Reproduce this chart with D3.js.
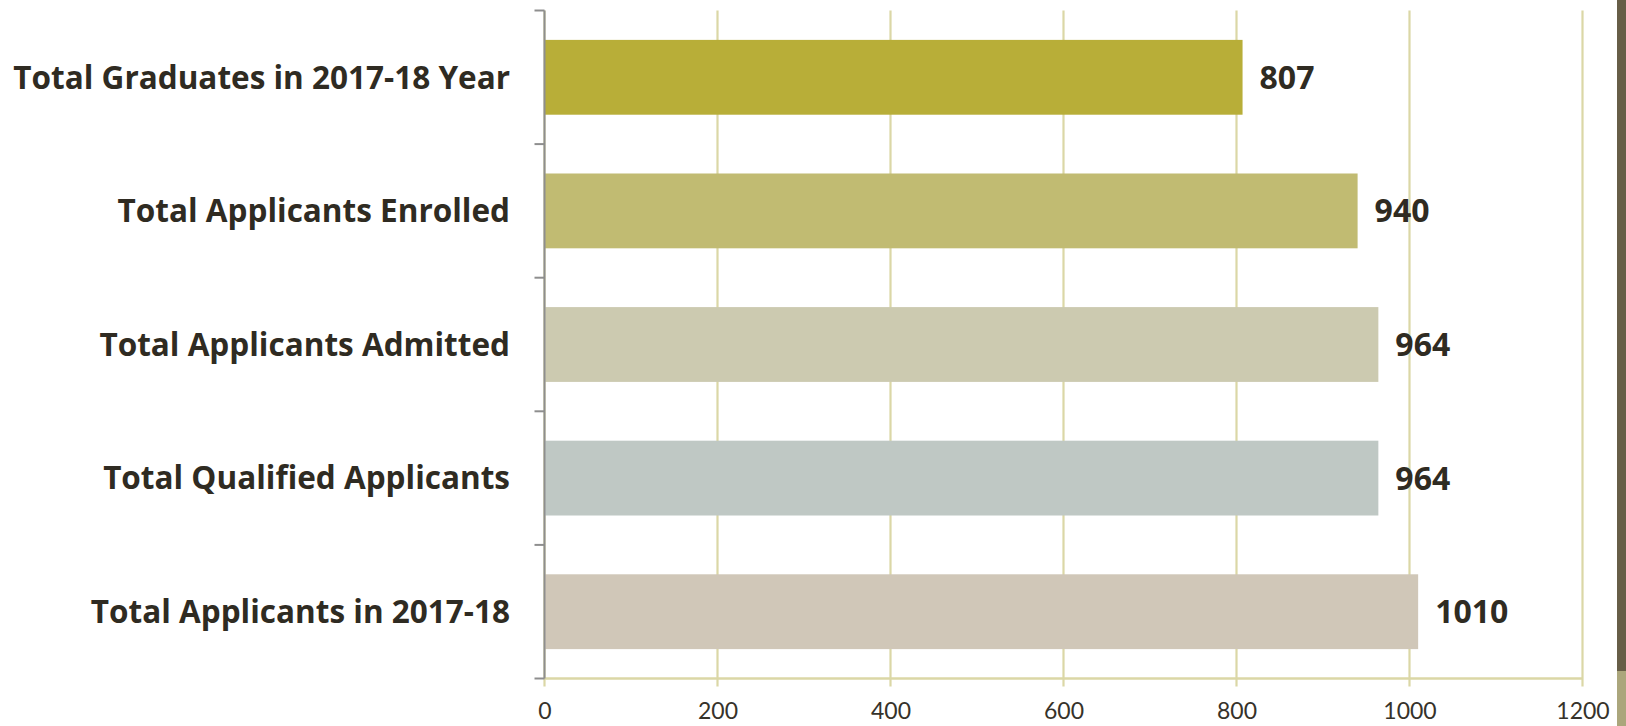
<!DOCTYPE html>
<html>
<head>
<meta charset="utf-8">
<script src="https://cdn.jsdelivr.net/npm/d3@7"></script>
<style>
  html, body { margin: 0; padding: 0; background: #ffffff; }
  svg { display: block; }
</style>
</head>
<body>
<svg id="chart" width="1626" height="726"></svg>
<script>
// Categories, top to bottom
const categories = [
  "Total Graduates in 2017-18 Year",
  "Total Applicants Enrolled",
  "Total Applicants Admitted",
  "Total Qualified Applicants",
  "Total Applicants in 2017-18"
];
const values = [807, 940, 964, 964, 1010];
const barColors = ["#b8ae38", "#c1bb72", "#cccab0", "#bfc8c4", "#d0c7b8"];
const xTicks = [0, 200, 400, 600, 800, 1000, 1200];

const svg = d3.select("#chart");
const W = 1626, H = 726;
const m = { left: 544.5, right: 1582.5, top: 10.5, bottom: 678.5 };

const x = d3.scaleLinear().domain([0, 1200]).range([m.left, m.right]);
const y = d3.scaleBand().domain(categories).range([m.top, m.bottom])
  .paddingInner(0.44).paddingOuter(0.22);

// Slide edge strip on the right
svg.append("rect").attr("x", 1617).attr("y", 0).attr("width", 9).attr("height", 671).attr("fill", "#675e47");
svg.append("rect").attr("x", 1617).attr("y", 671).attr("width", 9).attr("height", H - 671).attr("fill", "#aba67c");

// Vertical gridlines
svg.append("g").selectAll("line").data(xTicks).join("line")
  .attr("x1", d => x(d)).attr("x2", d => x(d))
  .attr("y1", m.top).attr("y2", m.bottom + 8)
  .attr("stroke", "#dbd7a6").attr("stroke-width", 2.2);

// Horizontal value axis line
svg.append("line")
  .attr("x1", x(0)).attr("x2", x(1200))
  .attr("y1", m.bottom).attr("y2", m.bottom)
  .attr("stroke", "#dbd7a6").attr("stroke-width", 2.5);

// Value axis tick labels
const xAxis = d3.axisBottom(x).tickValues(xTicks).tickSize(0).tickPadding(0).tickFormat(d3.format("d"));
const gx = svg.append("g").attr("transform", `translate(0,${m.bottom + 24})`).call(xAxis);
gx.select(".domain").remove();
gx.selectAll("text")
  .attr("dy", "0.71em")
  .attr("font-family", "Lato, 'Open Sans', sans-serif")
  .attr("font-size", 23)
  .attr("fill", "#36322a");

// Bars
svg.append("g").selectAll("rect").data(categories).join("rect")
  .attr("x", x(0))
  .attr("y", d => y(d))
  .attr("width", (d, i) => x(values[i]) - x(0))
  .attr("height", y.bandwidth())
  .attr("fill", (d, i) => barColors[i]);

// Value labels
svg.append("g").selectAll("text").data(categories).join("text")
  .attr("x", (d, i) => x(values[i]) + 17)
  .attr("y", d => y(d) + y.bandwidth() / 2)
  .attr("dy", "0.36em")
  .attr("font-family", "'Open Sans', Lato, sans-serif")
  .attr("font-weight", "bold")
  .attr("font-size", 32)
  .attr("fill", "#2f2b22")
  .text((d, i) => values[i]);

// Category axis (left), ticks at band boundaries
const axisX = x(0);
const gy = svg.append("g");
gy.append("line")
  .attr("x1", axisX).attr("x2", axisX)
  .attr("y1", m.top).attr("y2", m.bottom)
  .attr("stroke", "#8e8e8e").attr("stroke-width", 2);
const bounds = categories.map(d => y(d) - y.step() * 0.22).concat([m.bottom]);
gy.selectAll("line.tick").data(bounds).join("line")
  .attr("class", "tick")
  .attr("x1", axisX - 10).attr("x2", axisX)
  .attr("y1", d => d).attr("y2", d => d)
  .attr("stroke", "#8e8e8e").attr("stroke-width", 2);

// Category labels
gy.selectAll("text").data(categories).join("text")
  .attr("x", 510)
  .attr("y", d => y(d) + y.bandwidth() / 2)
  .attr("dy", "0.36em")
  .attr("text-anchor", "end")
  .attr("font-family", "'Open Sans', Lato, sans-serif")
  .attr("font-weight", "bold")
  .attr("font-size", 31.5)
  .attr("fill", "#2f2b22")
  .text(d => d);
</script>
</body>
</html>
